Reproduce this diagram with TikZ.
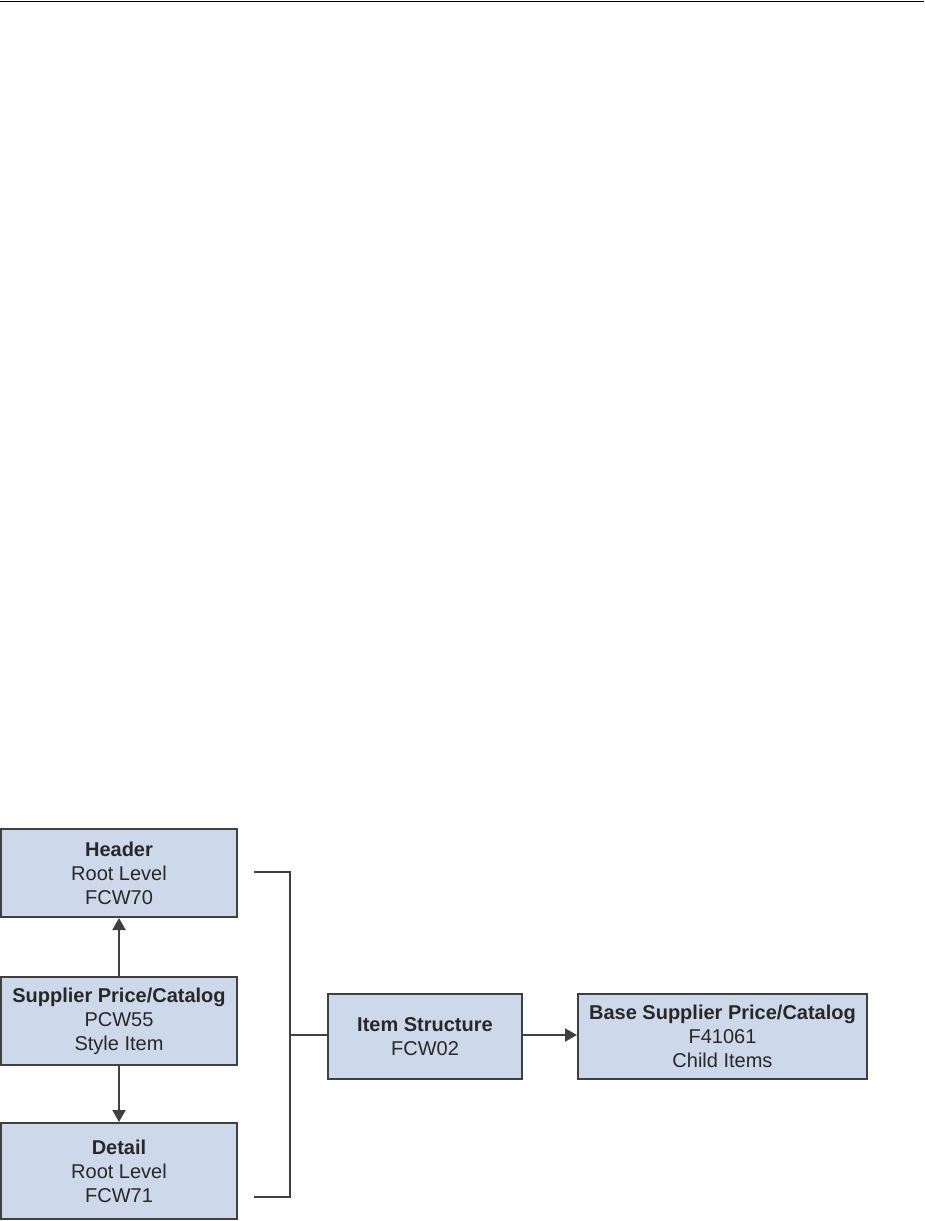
\documentclass[tikz,border=0pt]{standalone}
\usepackage{fontspec}
\setmainfont{Liberation Sans}
\usetikzlibrary{arrows.meta}
\definecolor{boxfill}{RGB}{205,217,234}
\definecolor{boxline}{RGB}{64,64,64}
\definecolor{txt}{RGB}{40,40,40}
\tikzset{
  blk/.style={draw=boxline, fill=boxfill, line width=2pt, inner sep=0pt,
    align=center, text=txt, font=\fontsize{20}{24}\selectfont},
  conn/.style={draw=boxline, line width=2pt},
  arr/.style={conn, -{Triangle[length=12pt,width=13pt]}}
}
\begin{document}
\begin{tikzpicture}[x=1pt,y=-1pt]
\useasboundingbox (0,0) rectangle (924,1221);
\draw[line width=1.4pt] (0,1.5) -- (924,1.5);

\node[blk, minimum width=236pt, minimum height=88pt] (header) at (119,873)
  {\textbf{Header}\\Root Level\\FCW70};
\node[blk, minimum width=236pt, minimum height=88pt] (supplier) at (119,1021)
  {\textbf{Supplier Price/Catalog}\\PCW55\\Style Item};
\node[blk, minimum width=236pt, minimum height=96pt] (detail) at (119,1171)
  {\textbf{Detail}\\Root Level\\FCW71};
\node[blk, minimum width=194pt, minimum height=85pt] (item) at (425,1036.5)
  {\textbf{Item Structure}\\FCW02};
\node[blk, minimum width=289pt, minimum height=85pt] (base) at (722.5,1036.5)
  {\textbf{Base Supplier Price/Catalog}\\F41061\\Child Items};

\coordinate (btop) at (254,872);
\coordinate (bbot) at (254,1197);
\coordinate (bmid) at (290,1035);

\draw[arr] (supplier.north) -- (header.south);
\draw[arr] (supplier.south) -- (detail.north);
\draw[conn] (btop) -- (290,872) -- (290,1197) -- (bbot);
\draw[conn] (bmid) -- (item.west |- bmid);
\draw[arr] (item.east |- bmid) -- (base.west |- bmid);
\end{tikzpicture}
\end{document}
